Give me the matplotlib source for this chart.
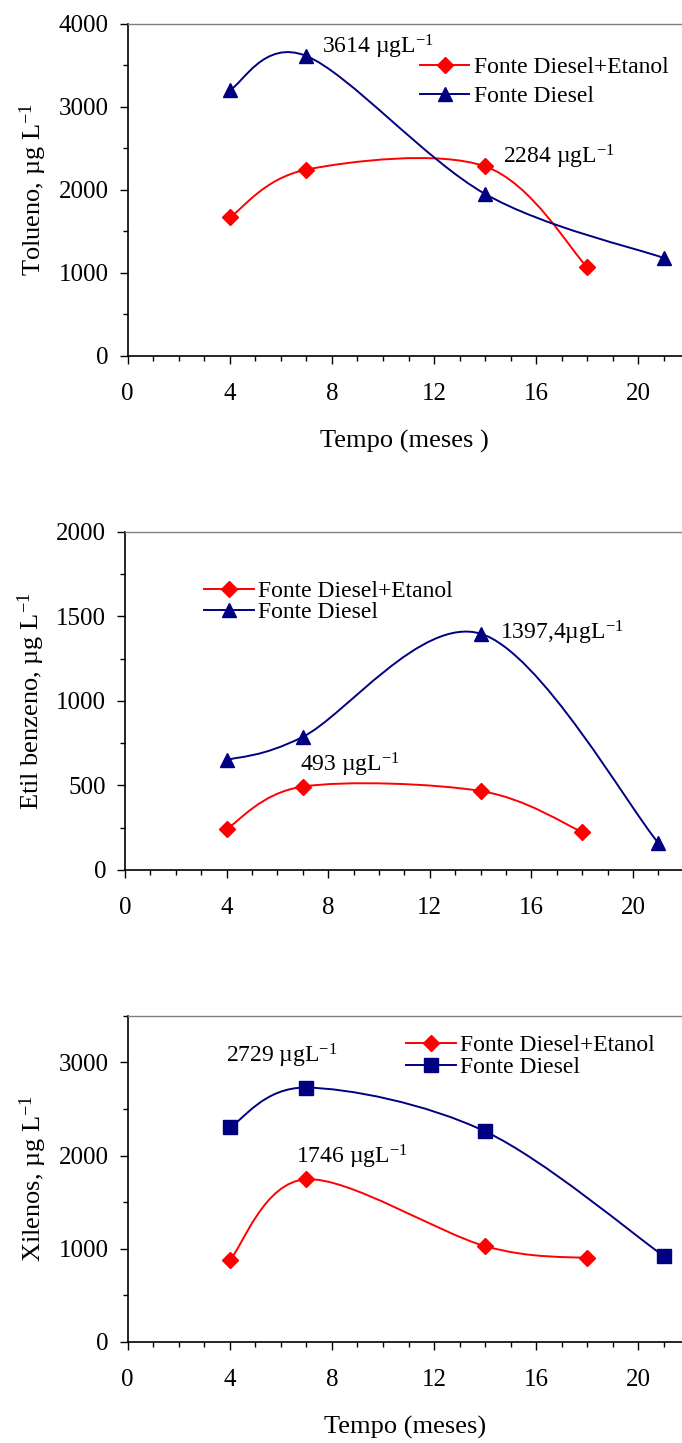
import matplotlib
matplotlib.use("Agg")
import matplotlib.pyplot as plt
from matplotlib.path import Path
from matplotlib.patches import PathPatch
from matplotlib.ticker import MultipleLocator

plt.rcParams['font.family'] = ['Liberation Serif', 'DejaVu Serif']
plt.rcParams['mathtext.fontset'] = 'custom'
plt.rcParams['mathtext.rm'] = 'Liberation Serif'
plt.rcParams['mathtext.it'] = 'Liberation Serif'

RED = '#ff0000'
NAVY = '#000080'

# tempo (meses)
meses_etanol = [4, 7, 14, 18]
meses_diesel = [4, 7, 14, 21]

# Tolueno
tol_etanol = [1670, 2245, 2284, 1070]
tol_diesel = [3205, 3614, 1952, 1180]

# Etil benzeno
etb_etanol = [243, 493, 467, 225]
etb_diesel = [650, 787, 1397.4, 160]

# Xilenos
xil_etanol = [878, 1746, 1028, 899]
xil_diesel = [2302, 2729, 2259, 921]

lab_etanol = 'Fonte Diesel+Etanol'
lab_diesel = 'Fonte Diesel'

LW = 1.4


def smooth_line(ax, x, y, color):
    # excel-like smoothed line: cubic bezier segments through the points
    n = len(x)
    verts = [(x[0], y[0])]
    codes = [Path.MOVETO]
    for i in range(n - 1):
        i0 = max(i - 1, 0)
        i3 = min(i + 2, n - 1)
        c1 = (x[i] + (x[i + 1] - x[i0]) / 6.0, y[i] + (y[i + 1] - y[i0]) / 6.0)
        c2 = (x[i + 1] - (x[i3] - x[i]) / 6.0, y[i + 1] - (y[i3] - y[i]) / 6.0)
        verts += [c1, c2, (x[i + 1], y[i + 1])]
        codes += [Path.CURVE4, Path.CURVE4, Path.CURVE4]
    ax.add_patch(PathPatch(Path(verts, codes), facecolor='none',
                           edgecolor=color, lw=LW, zorder=2))


def series(ax, x, y, color, marker, ms, label):
    smooth_line(ax, x, y, color)
    ax.plot(x, y, linestyle='none', marker=marker, ms=ms, color=color, zorder=3)
    # proxy for legend (line + marker)
    ax.plot([], [], color=color, lw=LW, marker=marker, ms=ms, label=label)


def style(ax, ymax, ymajor, yminor, xmax):
    ax.set_xlim(0, xmax)
    ax.set_ylim(0, ymax)
    ax.xaxis.set_major_locator(MultipleLocator(4))
    ax.xaxis.set_minor_locator(MultipleLocator(1))
    ax.yaxis.set_major_locator(MultipleLocator(ymajor))
    ax.yaxis.set_minor_locator(MultipleLocator(yminor))
    ax.spines['right'].set_visible(False)
    ax.spines['top'].set_color('#808080')
    ax.spines['top'].set_linewidth(1.0)
    for s in ['left', 'bottom']:
        ax.spines[s].set_linewidth(1.2)
    ax.tick_params(which='both', direction='out', width=1.0, labelsize=18)
    ax.tick_params(which='major', length=5.5)
    ax.tick_params(which='minor', length=3.5)
    ax.tick_params(axis='x', which='major', pad=14)
    ax.tick_params(axis='y', which='major', pad=8)


def legend(ax, x, y, spacing):
    ax.legend(loc='center left', bbox_to_anchor=(x, y), frameon=False,
              fontsize=17, borderpad=0, borderaxespad=0, handlelength=2.1,
              handletextpad=0.2, labelspacing=spacing)


fig = plt.figure(figsize=(6.82, 14.43), dpi=100)

# ---- Tolueno
ax1 = fig.add_axes([0.1872, 0.7533, 0.8128, 0.2301])
series(ax1, meses_etanol, tol_etanol, RED, 'D', 8, lab_etanol)
series(ax1, meses_diesel, tol_diesel, NAVY, '^', 10.5, lab_diesel)
style(ax1, 4000, 1000, 500, 21.71)
ax1.set_ylabel('Tolueno, µg L$^{-1}$', fontsize=19, labelpad=7)
ax1.set_xlabel('Tempo (meses )', fontsize=19, labelpad=18)
ax1.text(7.61, 3723, '3614 µgL$^{-1}$', fontsize=17, va='center', ha='left')
ax1.text(14.7, 2398, '2284 µgL$^{-1}$', fontsize=17, va='center', ha='left')
legend(ax1, 0.527, 0.825, 0.32)

# ---- Etil benzeno
ax2 = fig.add_axes([0.1833, 0.3971, 0.8167, 0.2344])
series(ax2, meses_etanol, etb_etanol, RED, 'D', 8, lab_etanol)
series(ax2, meses_diesel, etb_diesel, NAVY, '^', 10.5, lab_diesel)
style(ax2, 2000, 500, 250, 21.93)
ax2.set_ylabel('Etil benzeno, µg L$^{-1}$', fontsize=19, labelpad=7)
ax2.text(14.76, 1401, '1397,4µgL$^{-1}$', fontsize=17, va='center', ha='left')
ax2.text(6.89, 621, '493 µgL$^{-1}$', fontsize=17, va='center', ha='left')
legend(ax2, 0.142, 0.792, -0.03)

# ---- Xilenos
ax3 = fig.add_axes([0.1872, 0.0700, 0.8128, 0.2261])
series(ax3, meses_etanol, xil_etanol, RED, 'D', 8, lab_etanol)
series(ax3, meses_diesel, xil_diesel, NAVY, 's', 9.5, lab_diesel)
style(ax3, 3500, 1000, 500, 21.71)
ax3.set_ylabel('Xilenos, µg L$^{-1}$', fontsize=19, labelpad=7)
ax3.set_xlabel('Tempo (meses)', fontsize=19, labelpad=18)
ax3.text(3.85, 3073, '2729 µgL$^{-1}$', fontsize=17, va='center', ha='left')
ax3.text(6.59, 1981, '1746 µgL$^{-1}$', fontsize=17, va='center', ha='left')
legend(ax3, 0.502, 0.875, 0.02)

fig.savefig('out.png', dpi=100)
